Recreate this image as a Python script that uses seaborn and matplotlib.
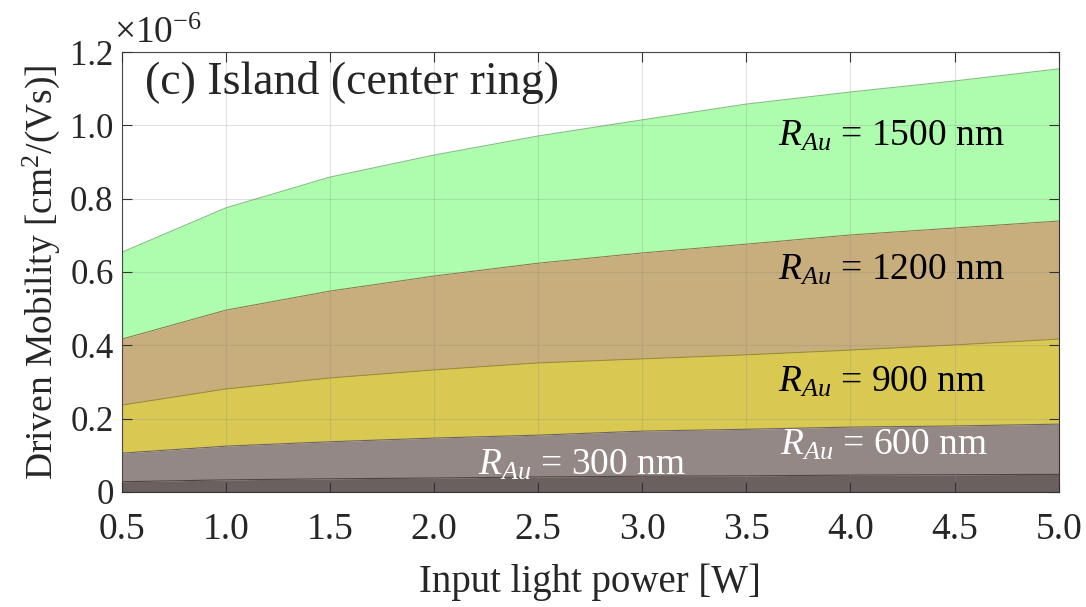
#!/usr/bin/env python3
"""
Driven mobility vs input light power, stacked bands for several R_Au
"""

import matplotlib
matplotlib.use("Agg")
import matplotlib.pyplot as plt
import seaborn as sns
import pandas as pd

# Data (units of 1e-6 cm^2/(Vs))
power = [0.5, 1.0, 1.5, 2.0, 2.5, 3.0, 3.5, 4.0, 4.5, 5.0]
mob_300 = [0.028, 0.033, 0.036, 0.038, 0.041, 0.043, 0.044, 0.046, 0.047, 0.048]
mob_600 = [0.106, 0.125, 0.137, 0.147, 0.155, 0.166, 0.171, 0.177, 0.180, 0.185]
mob_900 = [0.237, 0.281, 0.311, 0.333, 0.352, 0.363, 0.374, 0.387, 0.401, 0.417]
mob_1200 = [0.417, 0.496, 0.548, 0.589, 0.624, 0.652, 0.676, 0.701, 0.720, 0.739]
mob_1500 = [0.654, 0.775, 0.859, 0.919, 0.971, 1.015, 1.058, 1.091, 1.121, 1.154]

radii = ["300", "600", "900", "1200", "1500"]
fill_colors = ["#6a605e", "#948886", "#d9c953", "#c8ae7c", "#aefdae"]
edge_colors = ["#4e4543", "#6e6462", "#9c8e2c", "#8f7a50", "#7fc27f"]

x_ticks = [0.5, 1.0, 1.5, 2.0, 2.5, 3.0, 3.5, 4.0, 4.5, 5.0]
y_ticks = [0, 0.2, 0.4, 0.6, 0.8, 1.0, 1.2]
y_tick_labels = ["0", "0.2", "0.4", "0.6", "0.8", "1.0", "1.2"]

sns.set_style("ticks")
plt.rcParams["font.family"] = ["Liberation Serif", "DejaVu Serif"]
plt.rcParams["mathtext.fontset"] = "custom"
plt.rcParams["mathtext.rm"] = "Liberation Serif"
plt.rcParams["mathtext.it"] = "Liberation Serif:italic"

df = pd.DataFrame({"power": power, "300": mob_300, "600": mob_600,
                   "900": mob_900, "1200": mob_1200, "1500": mob_1500})

fig = plt.figure(figsize=(10.86, 6.07), dpi=100)
ax = fig.add_axes([0.1123, 0.1895, 0.8625, 0.7248])

lower = [0] * len(power)
for r, fc, ec in zip(radii, fill_colors, edge_colors):
    ax.fill_between(df["power"], lower, df[r], color=fc, linewidth=0, zorder=1)
    sns.lineplot(data=df, x="power", y=r, ax=ax, color=ec, linewidth=0.8, zorder=2)
    lower = df[r]

ax.set_xlim(0.5, 5.0)
ax.set_ylim(0, 1.2)
ax.set_xticks(x_ticks)
ax.set_xticklabels([f"{v:.1f}" for v in x_ticks])
ax.set_yticks(y_ticks)
ax.set_yticklabels(y_tick_labels)
ax.grid(True, color="#888888", alpha=0.25, linewidth=0.8, zorder=3)
ax.set_axisbelow(False)
ax.tick_params(axis="both", direction="in", length=7, width=0.8,
               top=True, right=True, color="#333333")
ax.tick_params(axis="x", pad=15, labelsize=27)
ax.tick_params(axis="y", pad=6, labelsize=25)
for spine in ax.spines.values():
    spine.set_linewidth(0.8)
    spine.set_color("#333333")

ax.set_xlabel("Input light power [W]", fontsize=28, labelpad=12)
ax.set_ylabel("Driven Mobility [cm$^2$/(Vs)]", fontsize=27, labelpad=6)

ax.text(0.025, 0.93, "(c) Island (center ring)", transform=ax.transAxes,
        fontsize=33, va="center", ha="left", zorder=5)
fig.text(0.105, 0.945, r"$\times$10$^{\mathregular{-6}}$", fontsize=27, ha="left", va="center")

labels = [("1500", 3.65, 0.97, "black"), ("1200", 3.65, 0.605, "black"),
          ("900", 3.65, 0.30, "black"), ("600", 3.66, 0.128, "white"),
          ("300", 2.21, 0.072, "white")]
for r, lx, ly, c in labels:
    ax.text(lx, ly, r"$R_{Au}$" + f" = {r} nm", fontsize=27, color=c,
            ha="left", va="center", zorder=5)

plt.savefig("out.png", dpi=100)
plt.close()
